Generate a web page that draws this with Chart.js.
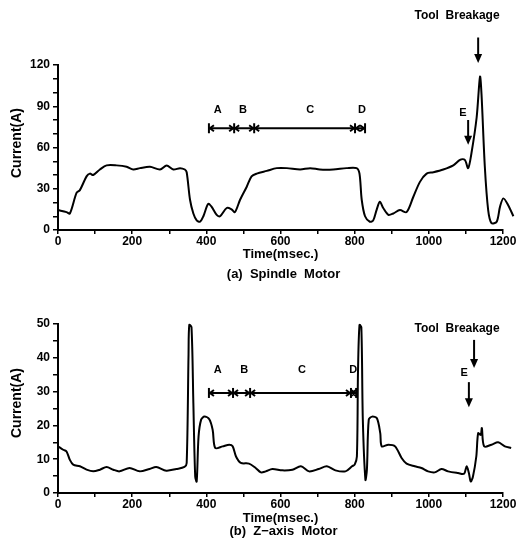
<!DOCTYPE html>
<html>
<head>
<meta charset="utf-8">
<script src="https://cdn.jsdelivr.net/npm/chart.js@4/dist/chart.umd.min.js"></script>
<style>
  html, body { margin: 0; padding: 0; background: #fff; }
  .panel { position: absolute; left: 0; }
</style>
</head>
<body>
<div class="panel" style="top:0"><canvas id="spindle" width="525" height="285"></canvas></div>
<div class="panel" style="top:285px"><canvas id="zaxis" width="525" height="263"></canvas></div>
<script>
// (a) spindle motor current
const spindleTime = [0, 23, 32, 50, 59, 77, 86, 95, 113, 131, 158, 185, 203, 221, 248, 275, 293, 311, 329, 342, 347,
  356, 365, 374, 383, 392, 405, 414, 428, 437, 455, 468, 477, 491, 509, 522, 536, 563, 590, 617, 653, 680, 706, 742,
  778, 805, 813, 819, 828, 841, 850, 859, 868, 877, 891, 904, 922, 940, 958, 976, 994, 1012, 1039, 1066, 1084, 1097,
  1106, 1115, 1129, 1138, 1142, 1151, 1160, 1169, 1183, 1192, 1201, 1214, 1228]
const spindleCurrent = [14.5, 13, 12, 27, 29, 39, 41, 40, 44, 47, 47, 46, 44, 45, 46, 44, 47, 44, 45, 44, 42,
  22, 12, 7, 6, 10, 19, 17, 11, 10, 16, 15, 13, 22, 31.5, 39, 41, 43, 45, 45, 44, 45, 44, 44,
  45, 45, 41, 22, 10, 6, 7, 14.5, 20.5, 16, 11, 12, 14.5, 13, 24, 35, 41, 42, 44, 47, 51, 51,
  45, 56, 82, 111.5, 99, 46, 14.5, 5, 6, 17, 23, 18, 10]

// (b) z-axis motor current
const zaxisTime = [0, 14, 23, 32, 41, 59, 77, 95, 113, 131, 149, 166, 193, 220, 247, 265, 292, 319, 341, 347, 352,
  354, 360, 365, 370, 374, 379, 386, 395, 408, 417, 424, 444, 462, 471, 480, 493, 515, 533, 547, 560, 578, 605, 632,
  655, 677, 703, 725, 748, 775, 793, 800, 806, 809, 813, 818, 822, 829, 833, 838, 847, 860, 869, 873, 891, 909, 927,
  940, 962, 980, 998, 1016, 1034, 1052, 1079, 1095, 1102, 1108, 1113, 1119, 1128, 1133, 1140, 1143, 1149, 1169,
  1187, 1205, 1222]
const zaxisCurrent = [13.8, 12.8, 12.3, 9.8, 8.4, 7.9, 6.9, 6.4, 6.9, 7.7, 6.9, 6.4, 7.4, 6.4, 7.1, 7.7, 6.6, 7.1, 7.7, 8.9, 41,
  49.7, 49, 26.6, 4.9, 3.4, 16.7, 21.7, 22.6, 21.8, 18.7, 13.3, 13.8, 14.3, 13.8, 10.8, 8.9, 8.7, 7.4, 6.1, 6.4, 7.1, 6.7, 6.9,
  7.9, 6.4, 7.1, 7.9, 6.7, 6.4, 7.9, 8.4, 10.8, 36, 49.7, 49, 21.7, 3.9, 6.9, 21.7, 22.6, 22.1, 17.7, 13.8, 14.3, 13.8, 10.3,
  8.7, 7.9, 7.4, 6.4, 6.1, 7.1, 6.4, 5.9, 5.7, 7.9, 5.9, 3.4, 4.9, 10.8, 17.7, 17.2, 19.2, 13.8, 14.3,
  15, 13.8, 13.3]

const timeTicks = [0, 200, 400, 600, 800, 1000, 1200]

const FONT = '"Liberation Sans", Arial, sans-serif'

function arrow(ctx, x, y1, y2) {
  ctx.lineWidth = 2
  ctx.beginPath()
  ctx.moveTo(x, y1)
  ctx.lineTo(x, y2 - 6)
  ctx.stroke()
  ctx.beginPath()
  ctx.moveTo(x - 4, y2 - 9)
  ctx.lineTo(x + 4, y2 - 9)
  ctx.lineTo(x, y2)
  ctx.closePath()
  ctx.fill()
}

// labels, arrows and the A-D interval bar
const overlay = {
  id: 'overlay',
  afterDraw(chart, args, o) {
    const {ctx, chartArea, scales: {x, y}} = chart
    const px = v => x.getPixelForValue(v)
    const py = v => y.getPixelForValue(v)
    const midX = (chartArea.left + chartArea.right) / 2
    ctx.save()
    ctx.fillStyle = '#000'
    ctx.strokeStyle = '#000'
    ctx.textAlign = 'center'
    ctx.textBaseline = 'middle'

    ctx.font = `bold 13px ${FONT}`
    ctx.fillText('Time(msec.)', midX, o.xTitleY)
    ctx.fillText(o.caption, midX + 3, o.captionY)
    ctx.save()
    ctx.translate(17, o.yTitleY)
    ctx.rotate(-Math.PI / 2)
    ctx.font = `bold 14px ${FONT}`
    ctx.fillText('Current(A)', 0, 0)
    ctx.restore()

    ctx.font = `bold 12px ${FONT}`
    ctx.fillText('Tool  Breakage', px(o.tool.text[0]), py(o.tool.text[1]))
    arrow(ctx, px(o.tool.arrow[0]), py(o.tool.arrow[1]), py(o.tool.arrow[2]))

    ctx.font = `bold 11px ${FONT}`
    ctx.fillText('E', px(o.e.text[0]), py(o.e.text[1]))
    arrow(ctx, px(o.e.arrow[0]), py(o.e.arrow[1]), py(o.e.arrow[2]))

    o.letters.forEach((t, i) => ctx.fillText('ABCD'[i], px(t), py(o.letterY)))

    const by = py(o.bar.y)
    const b = o.bar.bounds
    ctx.lineWidth = 2
    ctx.beginPath()
    ctx.moveTo(px(b[0]), by)
    ctx.lineTo(px(b[b.length - 1]), by)
    ctx.stroke()
    b.forEach(t => {
      ctx.beginPath()
      ctx.moveTo(px(t), by - 5)
      ctx.lineTo(px(t), by + 5)
      ctx.stroke()
    })
    for (let i = 0; i < b.length - 1; i++) {
      const a = px(b[i]), c = px(b[i + 1])
      ctx.beginPath()
      ctx.moveTo(a + 5, by - 3); ctx.lineTo(a + 1, by); ctx.lineTo(a + 5, by + 3)
      ctx.moveTo(c - 5, by - 3); ctx.lineTo(c - 1, by); ctx.lineTo(c - 5, by + 3)
      ctx.stroke()
    }
    ctx.restore()
  }
}

function makeChart(el, times, values, yMax, yStep, yLabelStep, pad, ov) {
  return new Chart(el, {
    type: 'line',
    data: {
      datasets: [{
        data: times.map((t, i) => ({x: t, y: values[i]})),
        borderColor: '#000',
        borderWidth: 2,
        pointRadius: 0,
        tension: 0.3,
        clip: false
      }]
    },
    options: {
      responsive: false,
      animation: false,
      layout: {padding: pad},
      plugins: {legend: {display: false}, tooltip: {enabled: false}, overlay: ov},
      scales: {
        x: {
          type: 'linear',
          // set limits here so the trace past 1200 ms is still drawn
          afterDataLimits: s => { s.min = 0; s.max = 1200 },
          afterFit: s => { s.height = 30 },
          border: {display: true, color: '#000', width: 2},
          grid: {drawOnChartArea: false, color: '#000', tickLength: 4, lineWidth: 1.5},
          ticks: {
            stepSize: 100,
            autoSkip: false,
            maxRotation: 0,
            padding: 0,
            color: '#000',
            font: {family: FONT, size: 12, weight: 'bold'},
            callback: v => timeTicks.includes(v) ? v : ''
          }
        },
        y: {
          min: 0,
          max: yMax,
          afterFit: s => { s.width = 58 },
          border: {display: true, color: '#000', width: 2},
          grid: {drawOnChartArea: false, color: '#000', tickLength: 5, lineWidth: 1.5},
          ticks: {
            stepSize: yStep,
            autoSkip: false,
            padding: 3,
            color: '#000',
            font: {family: FONT, size: 12, weight: 'bold'},
            callback: v => v % yLabelStep === 0 ? v : ''
          }
        }
      }
    },
    plugins: [overlay]
  })
}

makeChart(document.getElementById('spindle'), spindleTime, spindleCurrent, 120, 10, 30,
  {left: 0, right: 22, top: 65, bottom: 25},
  {
    caption: '(a)  Spindle  Motor', xTitleY: 254, captionY: 274, yTitleY: 143,
    tool: {text: [1076, 156], arrow: [1133, 140, 121.5]},
    e: {text: [1092, 85], arrow: [1106, 80, 62]},
    letters: [431, 499, 680, 820], letterY: 87,
    bar: {y: 74, bounds: [407, 475, 529, 801, 828]}
  })

makeChart(document.getElementById('zaxis'), zaxisTime, zaxisCurrent, 50, 5, 10,
  {left: 0, right: 22, top: 39, bottom: 25},
  {
    caption: '(b)  Z\u2212axis  Motor', xTitleY: 233, captionY: 246, yTitleY: 118,
    tool: {text: [1076, 48.5], arrow: [1122, 45.3, 37]},
    e: {text: [1095, 35.5], arrow: [1108, 32.8, 25.4]},
    letters: [431, 502, 658, 796], letterY: 36.4,
    bar: {y: 29.6, bounds: [407, 472, 518, 790, 804]}
  })
</script>
</body>
</html>
